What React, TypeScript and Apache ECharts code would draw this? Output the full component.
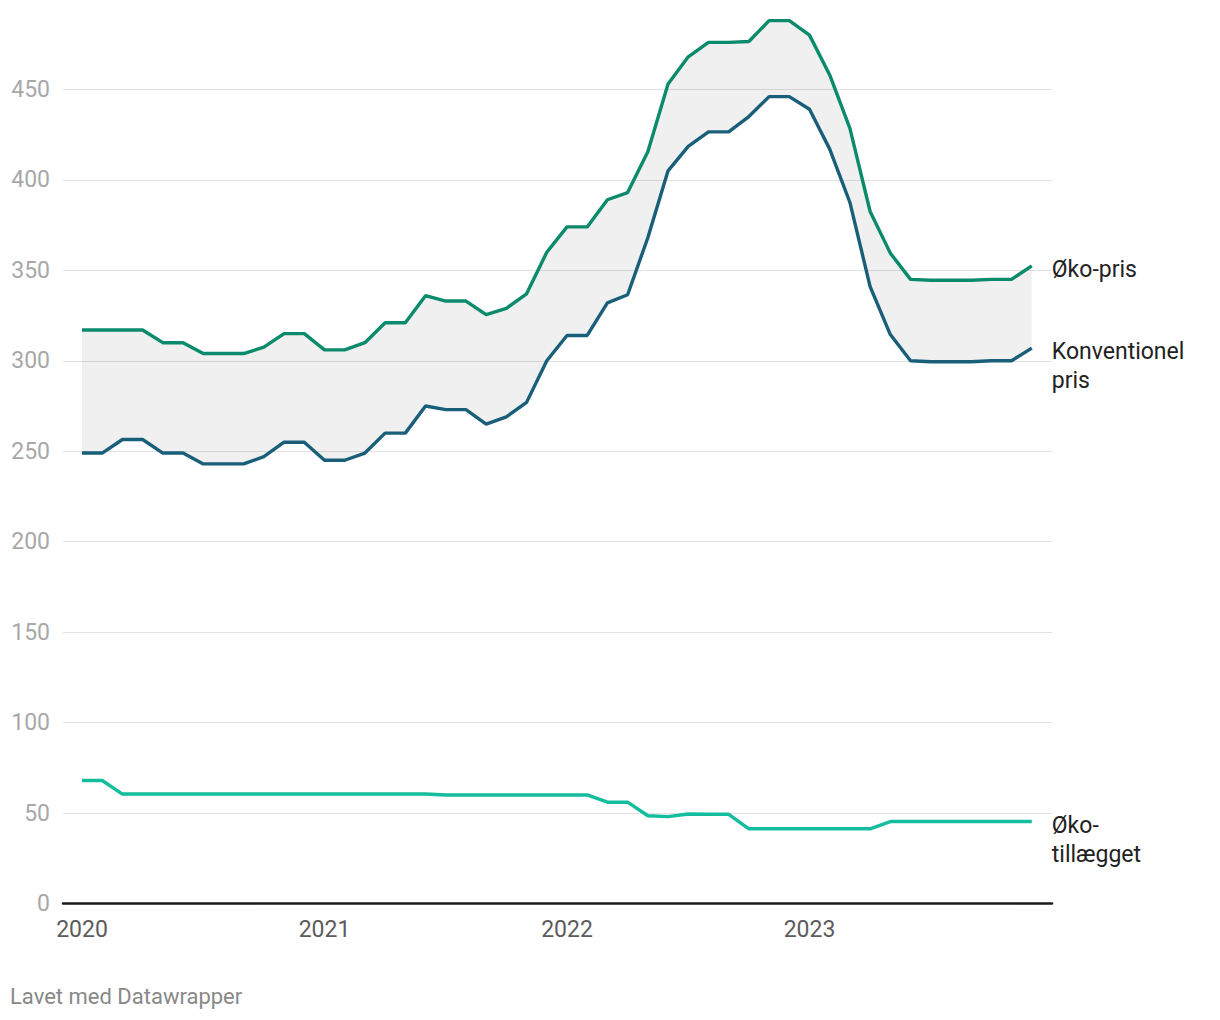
import React, { useEffect, useRef } from "react";
import * as echarts from "echarts";

const months: string[] = [
  "2020-01","2020-02","2020-03","2020-04","2020-05","2020-06","2020-07","2020-08","2020-09","2020-10","2020-11","2020-12",
  "2021-01","2021-02","2021-03","2021-04","2021-05","2021-06","2021-07","2021-08","2021-09","2021-10","2021-11","2021-12",
  "2022-01","2022-02","2022-03","2022-04","2022-05","2022-06","2022-07","2022-08","2022-09","2022-10","2022-11","2022-12",
  "2023-01","2023-02","2023-03","2023-04","2023-05","2023-06","2023-07","2023-08","2023-09","2023-10","2023-11","2023-12",
];

const okoPris: number[] = [
  317, 317, 317, 317, 310, 310, 304, 304, 304, 307.5, 315, 315,
  306, 306, 310, 321, 321, 336, 333, 333, 325.5, 329, 337, 360,
  374, 374, 389, 393, 415.5, 453, 468, 476, 476, 476.5, 488, 488,
  480, 458, 428.5, 382.5, 359.5, 345, 344.5, 344.5, 344.5, 345, 345, 352.5,
];

const konvPris: number[] = [
  249, 249, 256.5, 256.5, 249, 249, 243, 243, 243, 247, 255, 255,
  245, 245, 249, 260, 260, 275, 273, 273, 265, 269, 277, 300,
  314, 314, 332, 336.5, 368, 405, 418.5, 426.5, 426.5, 435, 446, 446,
  439, 417, 387.5, 341, 314.5, 300, 299.5, 299.5, 299.5, 300, 300, 307,
];

const okoTillaeg: number[] = [
  68, 68, 60.5, 60.5, 60.5, 60.5, 60.5, 60.5, 60.5, 60.5, 60.5, 60.5,
  60.5, 60.5, 60.5, 60.5, 60.5, 60.5, 60, 60, 60, 60, 60, 60,
  60, 60, 56, 56, 48.5, 48, 49.5, 49.3, 49.3, 41.3, 41.3, 41.3,
  41.3, 41.3, 41.3, 41.3, 45.3, 45.3, 45.3, 45.3, 45.3, 45.3, 45.3, 45.3,
];

const yearTickIndex: number[] = [0, 12, 24, 36];
const yearLabels: string[] = ["2020", "2021", "2022", "2023"];

const seriesNames = {
  oko: "Øko-pris",
  konv: "Konventionel\npris",
  tillaeg: "Øko-\ntillægget",
};

const FONT = "Roboto, 'Noto Sans', sans-serif";

export default function App() {
  const ref = useRef<HTMLDivElement>(null);

  useEffect(() => {
    document.body.style.margin = "0";
    if (!ref.current) return;
    const chart = echarts.init(ref.current, undefined, { renderer: "svg" });

    const toPts = (arr: number[]) => arr.map((v, i) => [i, v]);

    const endLabel = (text: string) => ({
      show: true,
      formatter: () => text,
      color: "#222222",
      fontSize: 23,
      lineHeight: 29,
      fontFamily: FONT,
      distance: 20,
      align: "left",
      verticalAlign: "top",
      offset: [0, -11],
    });

    const option: any = {
      animation: false,
      textStyle: { fontFamily: FONT },
      grid: { left: 63, right: 168, top: 8, bottom: 116.5, containLabel: false },
      xAxis: {
        type: "value",
        min: -0.94,
        max: 48,
        axisLine: { show: true, onZero: false, lineStyle: { color: "#1a1a1a", width: 2.5 } },
        axisTick: { show: false },
        splitLine: { show: false },
        axisLabel: {
          customValues: yearTickIndex,
          formatter: (v: number) => yearLabels[yearTickIndex.indexOf(Math.round(v))] ?? "",
          color: "#5c5c5c",
          fontSize: 23,
          fontFamily: FONT,
          margin: 14,
        },
      },
      yAxis: {
        type: "value",
        min: 0,
        max: 495,
        interval: 50,
        axisLine: { show: false },
        axisTick: { show: false },
        splitLine: { show: true, showMaxLine: false, lineStyle: { color: "#e2e2e2", width: 1.2 } },
        axisLabel: {
          showMaxLabel: false,
          color: "#a8a8a8",
          fontSize: 23,
          fontFamily: FONT,
          margin: 13,
          formatter: (v: number) => (v % 50 === 0 ? String(v) : ""),
        },
      },
      series: [
        {
          name: "band",
          type: "custom",
          data: toPts(okoPris),
          silent: true,
          z: 1,
          renderItem: (params: any, api: any) => {
            if (params.dataIndex !== 0) return null;
            const top = okoPris.map((v, i) => api.coord([i, v]));
            const bottom = konvPris.map((v, i) => api.coord([i, v])).reverse();
            return {
              type: "polygon",
              shape: { points: [...top, ...bottom] },
              style: { fill: "rgba(0,0,0,0.06)" },
            };
          },
        },
        {
          name: seriesNames.oko,
          type: "line",
          data: toPts(okoPris),
          symbol: "none",
          lineStyle: { color: "#0b8a6c", width: 3.4 },
          endLabel: endLabel(seriesNames.oko),
          z: 3,
        },
        {
          name: seriesNames.konv,
          type: "line",
          data: toPts(konvPris),
          symbol: "none",
          lineStyle: { color: "#1a5f7a", width: 3.4 },
          endLabel: endLabel(seriesNames.konv),
          z: 3,
        },
        {
          name: seriesNames.tillaeg,
          type: "line",
          data: toPts(okoTillaeg),
          symbol: "none",
          lineStyle: { color: "#14bd9d", width: 3.4 },
          endLabel: endLabel(seriesNames.tillaeg),
          z: 3,
        },
      ],
      graphic: [
        {
          type: "text",
          left: 10,
          top: 985,
          style: {
            text: "Lavet med Datawrapper",
            fill: "#888888",
            fontSize: 22,
            fontFamily: FONT,
          },
        },
      ],
    };

    chart.setOption(option);
    return () => chart.dispose();
  }, []);

  return <div ref={ref} style={{ width: 1220, height: 1020 }} />;
}
